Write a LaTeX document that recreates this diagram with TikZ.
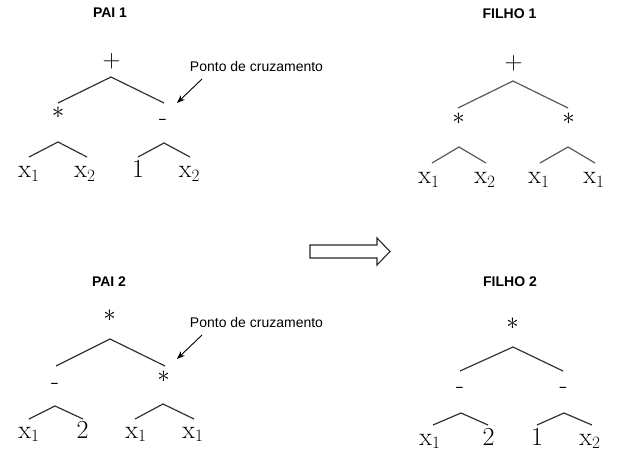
\documentclass[tikz,border=0pt]{standalone}
\usepackage{fontspec}
\newfontfamily\sansf{Liberation Sans}
\usetikzlibrary{arrows.meta}
\tikzset{
  sym/.style={anchor=base, inner sep=0pt, font=\fontsize{26}{30}\selectfont},
  ttl/.style={inner sep=0pt, font=\sansf\bfseries\fontsize{14}{16}\selectfont},
  lbl/.style={anchor=base, inner sep=0pt, font=\sansf\fontsize{14}{16}\selectfont},
  branch/.style={draw=black!80, line width=1.2pt},
  ptr/.style={-{Stealth[length=8pt,width=6pt]}, line width=0.9pt},
  blockarrow/.style={draw=black!85, fill=white, line width=1.1pt, line join=miter}
}
\begin{document}
\begin{tikzpicture}[x=1pt,y=-1pt]
\useasboundingbox (0,0) rectangle (629,470);
% ---------- PAI 1 ----------
\node[ttl] (t1) at (110,13) {PAI 1};
\node[sym] (p1r) at (111.5,68) {$+$};
\node[sym] (p1a) at (58,118.5) {$\ast$};
\node[sym] (p1b) at (163,126) {-};
\node[sym] (p1l1) at (29,178) {$\mathrm{x}_1$};
\node[sym] (p1l2) at (85,178) {$\mathrm{x}_2$};
\node[sym] (p1l3) at (138,178) {1};
\node[sym] (p1l4) at (189.5,178) {$\mathrm{x}_2$};
\draw[branch] (58,103) -- (111,77) -- (164,103);
\draw[branch] (29,157) -- (58,142) -- (87,157);
\draw[branch] (138,157) -- (164,143) -- (190,157);
\node[lbl] (c1) at (256.5,72) {Ponto de cruzamento};
\coordinate (c1s) at (202,79);
\coordinate (c1e) at (177,103);
\draw[ptr] (c1s) -- (c1e);
% ---------- FILHO 1 ----------
\node[ttl] (t2) at (509.5,13.5) {FILHO 1};
\node[sym] (f1r) at (513.5,70) {$+$};
\node[sym] (f1a) at (458.5,125) {$\ast$};
\node[sym] (f1b) at (568.5,125) {$\ast$};
\node[sym] (f1l1) at (429,184) {$\mathrm{x}_1$};
\node[sym] (f1l2) at (485,184) {$\mathrm{x}_2$};
\node[sym] (f1l3) at (539,184) {$\mathrm{x}_1$};
\node[sym] (f1l4) at (594,184) {$\mathrm{x}_1$};
\draw[branch,draw=black!65] (458,108) -- (513,81) -- (568,108);
\draw[branch,draw=black!65] (432,163) -- (459,147) -- (486,163);
\draw[branch,draw=black!65] (540,163) -- (568,147) -- (595,163);
% ---------- block arrow ----------
\draw[blockarrow] (310,245) -- (377,245) -- (377,238) -- (390,251.5) -- (377,265) -- (377,258) -- (310,258) -- cycle;
% ---------- PAI 2 ----------
\node[ttl] (t3) at (109,281.5) {PAI 2};
\node[sym] (p2r) at (109.5,321) {$\ast$};
\node[sym] (p2a) at (55,389.5) {-};
\node[sym] (p2b) at (163.5,382) {$\ast$};
\node[sym] (p2l1) at (29,438) {$\mathrm{x}_1$};
\node[sym] (p2l2) at (82.5,438) {2};
\node[sym] (p2l3) at (136,438) {$\mathrm{x}_1$};
\node[sym] (p2l4) at (193,438) {$\mathrm{x}_1$};
\draw[branch] (56,366) -- (110,339) -- (165,366);
\draw[branch] (29,419) -- (55,406) -- (83,419);
\draw[branch] (135,419) -- (163,404) -- (194,419);
\node[lbl] (c2) at (256.5,327) {Ponto de cruzamento};
\coordinate (c2s) at (202,335);
\coordinate (c2e) at (177,359);
\draw[ptr] (c2s) -- (c2e);
% ---------- FILHO 2 ----------
\node[ttl] (t4) at (510,282) {FILHO 2};
\node[sym] (f2r) at (512.5,329) {$\ast$};
\node[sym] (f2a) at (460,393.5) {-};
\node[sym] (f2b) at (563.5,393.5) {-};
\node[sym] (f2l1) at (430,445) {$\mathrm{x}_1$};
\node[sym] (f2l2) at (488.5,445) {2};
\node[sym] (f2l3) at (537,445) {1};
\node[sym] (f2l4) at (590,445) {$\mathrm{x}_2$};
\draw[branch] (460,371) -- (513,347) -- (563,371);
\draw[branch] (433,425) -- (461,413) -- (488,425);
\draw[branch] (537,425) -- (564,413) -- (592,425);
\end{tikzpicture}
\end{document}
